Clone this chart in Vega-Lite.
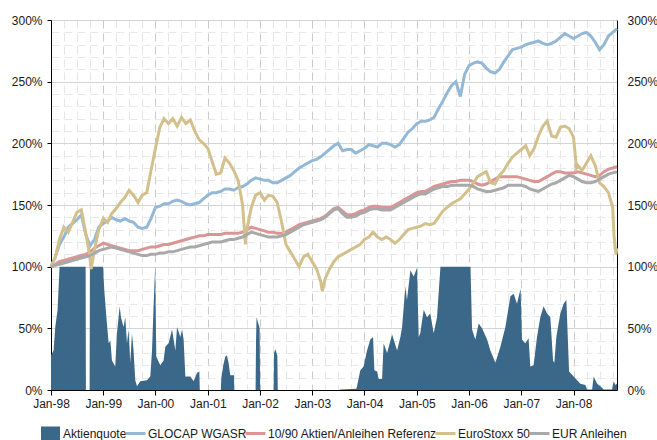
{
  "$schema": "https://vega.github.io/schema/vega-lite/v6.json",
  "autosize": {"type": "none"},
  "padding": {"left": 51, "top": 20, "right": 40, "bottom": 50},
  "width": 566,
  "height": 370,
  "background": "white",
  "config": {
    "view": {"stroke": null},
    "font": "Liberation Sans",
    "axis": {"labelFont": "Liberation Sans", "labelFontSize": 12, "labelColor": "#1a1a1a"},
    "legend": {"labelFont": "Liberation Sans", "labelFontSize": 12, "labelColor": "#1a1a1a"}
  },
  "datasets": {
    "aktienquote": [
      {"date":"1998-01-01","value":28},{"date":"1998-01-19","value":32},{"date":"1998-01-31","value":51},{"date":"1998-02-16","value":65},{"date":"1998-03-02","value":100},{"date":"1998-08-31","value":100},{"date":"1998-09-02","value":0},{"date":"1998-09-28","value":0},{"date":"1998-09-30","value":100},{"date":"1998-12-30","value":100},
      {"date":"1999-01-09","value":80},{"date":"1999-01-23","value":59},{"date":"1999-02-08","value":38},{"date":"1999-02-20","value":40},{"date":"1999-03-03","value":24},{"date":"1999-03-26","value":19},{"date":"1999-04-07","value":46},{"date":"1999-04-26","value":68},{"date":"1999-05-05","value":59},{"date":"1999-05-23","value":51},{"date":"1999-06-04","value":59},{"date":"1999-06-16","value":38},{"date":"1999-06-27","value":49},{"date":"1999-07-09","value":22},{"date":"1999-07-21","value":46},{"date":"1999-08-01","value":32},{"date":"1999-08-13","value":8},{"date":"1999-08-25","value":3},{"date":"1999-09-17","value":7},{"date":"1999-11-03","value":8},{"date":"1999-11-26","value":11},{"date":"1999-12-08","value":32},{"date":"1999-12-19","value":68},{"date":"1999-12-30","value":100},
      {"date":"2000-01-07","value":27},{"date":"2000-02-04","value":20},{"date":"2000-02-27","value":24},{"date":"2000-03-10","value":35},{"date":"2000-04-02","value":38},{"date":"2000-04-26","value":49},{"date":"2000-05-19","value":32},{"date":"2000-05-31","value":51},{"date":"2000-06-23","value":43},{"date":"2000-07-05","value":49},{"date":"2000-07-16","value":41},{"date":"2000-07-28","value":11},{"date":"2000-09-01","value":11},{"date":"2000-09-24","value":7},{"date":"2000-10-18","value":14},{"date":"2000-11-03","value":15},{"date":"2000-11-06","value":0},
      {"date":"2001-04-02","value":0},{"date":"2001-04-05","value":9},{"date":"2001-04-19","value":20},{"date":"2001-05-03","value":27},{"date":"2001-05-15","value":28},{"date":"2001-05-26","value":22},{"date":"2001-06-07","value":12},{"date":"2001-07-03","value":12},{"date":"2001-07-05","value":0},{"date":"2001-12-01","value":0},{"date":"2001-12-04","value":40},{"date":"2001-12-08","value":59},{"date":"2001-12-20","value":54},{"date":"2001-12-29","value":50},
      {"date":"2002-01-02","value":0},{"date":"2002-04-06","value":0},{"date":"2002-04-09","value":30},{"date":"2002-04-18","value":33},{"date":"2002-05-02","value":28},{"date":"2002-05-05","value":0},
      {"date":"2003-07-10","value":0},{"date":"2003-07-16","value":0.5},{"date":"2003-11-05","value":1},{"date":"2003-11-10","value":3},{"date":"2003-12-03","value":16},{"date":"2003-12-26","value":19},
      {"date":"2004-01-19","value":32},{"date":"2004-02-11","value":41},{"date":"2004-03-01","value":43},{"date":"2004-03-10","value":16},{"date":"2004-03-29","value":15},{"date":"2004-04-09","value":9},{"date":"2004-05-03","value":9},{"date":"2004-05-14","value":38},{"date":"2004-06-07","value":30},{"date":"2004-07-12","value":45},{"date":"2004-08-16","value":32},{"date":"2004-09-08","value":43},{"date":"2004-09-20","value":51},{"date":"2004-10-13","value":84},{"date":"2004-10-24","value":73},{"date":"2004-11-17","value":97},{"date":"2004-12-10","value":92},
      {"date":"2005-01-02","value":99},{"date":"2005-01-14","value":43},{"date":"2005-01-25","value":46},{"date":"2005-02-18","value":65},{"date":"2005-03-13","value":59},{"date":"2005-04-05","value":62},{"date":"2005-04-29","value":46},{"date":"2005-05-22","value":59},{"date":"2005-06-15","value":100},
      {"date":"2006-01-11","value":100},{"date":"2006-01-22","value":49},{"date":"2006-02-14","value":41},{"date":"2006-03-09","value":54},{"date":"2006-04-02","value":50},{"date":"2006-05-07","value":41},{"date":"2006-05-30","value":32},{"date":"2006-07-04","value":22},{"date":"2006-08-08","value":35},{"date":"2006-09-12","value":51},{"date":"2006-10-17","value":76},{"date":"2006-11-09","value":78},{"date":"2006-12-02","value":70},{"date":"2006-12-27","value":82},
      {"date":"2007-01-06","value":41},{"date":"2007-01-29","value":38},{"date":"2007-02-21","value":42},{"date":"2007-03-05","value":19},{"date":"2007-03-28","value":20},{"date":"2007-04-21","value":43},{"date":"2007-05-14","value":59},{"date":"2007-06-06","value":68},{"date":"2007-06-30","value":62},{"date":"2007-07-23","value":59},{"date":"2007-08-11","value":24},{"date":"2007-08-20","value":22},{"date":"2007-09-03","value":43},{"date":"2007-10-01","value":62},{"date":"2007-10-24","value":70},{"date":"2007-11-12","value":73},{"date":"2007-11-21","value":46},{"date":"2007-12-01","value":15},
      {"date":"2008-01-02","value":11},{"date":"2008-01-26","value":8},{"date":"2008-02-18","value":5},{"date":"2008-03-24","value":4},{"date":"2008-04-05","value":0.5},{"date":"2008-05-10","value":0.5},{"date":"2008-05-21","value":11},{"date":"2008-06-14","value":5},{"date":"2008-07-07","value":3},{"date":"2008-07-30","value":0.5},{"date":"2008-09-26","value":0.5},{"date":"2008-10-08","value":7},{"date":"2008-10-20","value":4},{"date":"2008-10-31","value":5}
    ],
    "glocap": [
      {"date":"1998-01-01","value":100},{"date":"1998-02-01","value":108},{"date":"1998-03-01","value":118},{"date":"1998-04-01","value":124},{"date":"1998-05-01","value":132},{"date":"1998-06-01","value":135},{"date":"1998-07-01","value":138},{"date":"1998-08-01","value":142},{"date":"1998-09-01","value":126},{"date":"1998-10-01","value":117},{"date":"1998-11-01","value":122},{"date":"1998-12-01","value":132},
      {"date":"1999-01-01","value":135},{"date":"1999-02-01","value":137},{"date":"1999-03-01","value":140},{"date":"1999-04-01","value":138},{"date":"1999-05-01","value":137},{"date":"1999-06-01","value":139},{"date":"1999-07-01","value":137},{"date":"1999-08-01","value":136},{"date":"1999-09-01","value":132},{"date":"1999-10-01","value":131},{"date":"1999-11-01","value":132},{"date":"1999-12-01","value":139},
      {"date":"2000-01-01","value":148},{"date":"2000-02-01","value":149},{"date":"2000-03-01","value":151},{"date":"2000-04-01","value":151},{"date":"2000-05-01","value":153},{"date":"2000-06-01","value":154},{"date":"2000-07-01","value":153},{"date":"2000-08-01","value":151},{"date":"2000-09-01","value":150},{"date":"2000-10-01","value":151},{"date":"2000-11-01","value":152},{"date":"2000-12-01","value":155},
      {"date":"2001-01-01","value":158},{"date":"2001-02-01","value":160},{"date":"2001-03-01","value":160},{"date":"2001-04-01","value":161},{"date":"2001-05-01","value":163},{"date":"2001-06-01","value":163},{"date":"2001-07-01","value":162},{"date":"2001-08-01","value":164},{"date":"2001-09-01","value":165},{"date":"2001-10-01","value":167},{"date":"2001-11-01","value":170},{"date":"2001-12-01","value":172},
      {"date":"2002-01-01","value":171},{"date":"2002-02-01","value":170},{"date":"2002-03-01","value":170},{"date":"2002-04-01","value":168},{"date":"2002-05-01","value":168},{"date":"2002-06-01","value":170},{"date":"2002-07-01","value":172},{"date":"2002-08-01","value":174},{"date":"2002-09-01","value":177},{"date":"2002-10-01","value":180},{"date":"2002-11-01","value":182},{"date":"2002-12-01","value":184},
      {"date":"2003-01-01","value":186},{"date":"2003-02-01","value":187},{"date":"2003-03-01","value":189},{"date":"2003-04-01","value":192},{"date":"2003-05-01","value":195},{"date":"2003-06-01","value":198},{"date":"2003-07-01","value":200},{"date":"2003-08-01","value":194},{"date":"2003-09-01","value":195},{"date":"2003-10-01","value":195},{"date":"2003-11-01","value":192},{"date":"2003-12-01","value":194},
      {"date":"2004-01-01","value":196},{"date":"2004-02-01","value":199},{"date":"2004-03-01","value":198},{"date":"2004-04-01","value":197},{"date":"2004-05-01","value":200},{"date":"2004-06-01","value":200},{"date":"2004-07-01","value":199},{"date":"2004-08-01","value":197},{"date":"2004-09-01","value":199},{"date":"2004-10-01","value":204},{"date":"2004-11-01","value":209},{"date":"2004-12-01","value":212},
      {"date":"2005-01-01","value":216},{"date":"2005-02-01","value":218},{"date":"2005-03-01","value":218},{"date":"2005-04-01","value":219},{"date":"2005-05-01","value":221},{"date":"2005-06-01","value":228},{"date":"2005-07-01","value":234},{"date":"2005-08-01","value":241},{"date":"2005-09-01","value":247},{"date":"2005-10-01","value":250},{"date":"2005-11-01","value":238},{"date":"2005-12-01","value":256},
      {"date":"2006-01-01","value":263},{"date":"2006-02-01","value":265},{"date":"2006-03-01","value":266},{"date":"2006-04-01","value":265},{"date":"2006-05-01","value":261},{"date":"2006-06-01","value":258},{"date":"2006-07-01","value":257},{"date":"2006-08-01","value":260},{"date":"2006-09-01","value":266},{"date":"2006-10-01","value":271},{"date":"2006-11-01","value":276},{"date":"2006-12-01","value":277},
      {"date":"2007-01-01","value":278},{"date":"2007-02-01","value":280},{"date":"2007-03-01","value":281},{"date":"2007-04-01","value":282},{"date":"2007-05-01","value":283},{"date":"2007-06-01","value":281},{"date":"2007-07-01","value":280},{"date":"2007-08-01","value":281},{"date":"2007-09-01","value":283},{"date":"2007-10-01","value":286},{"date":"2007-11-01","value":289},{"date":"2007-12-01","value":287},
      {"date":"2008-01-01","value":285},{"date":"2008-02-01","value":287},{"date":"2008-03-01","value":289},{"date":"2008-04-01","value":290},{"date":"2008-05-01","value":287},{"date":"2008-06-01","value":282},{"date":"2008-07-01","value":276},{"date":"2008-08-01","value":280},{"date":"2008-09-01","value":287},{"date":"2008-10-01","value":290},{"date":"2008-10-31","value":293}
    ],
    "referenz": [
      {"date":"1998-01-01","value":100},{"date":"1998-02-01","value":102},{"date":"1998-03-01","value":104},{"date":"1998-04-01","value":105},{"date":"1998-05-01","value":106},{"date":"1998-06-01","value":107},{"date":"1998-07-01","value":108},{"date":"1998-08-01","value":109},{"date":"1998-09-01","value":110},{"date":"1998-10-01","value":112},{"date":"1998-11-01","value":115},{"date":"1998-12-01","value":117},
      {"date":"1999-01-01","value":119},{"date":"1999-02-01","value":118},{"date":"1999-03-01","value":117},{"date":"1999-04-01","value":116},{"date":"1999-05-01","value":115},{"date":"1999-06-01","value":114},{"date":"1999-07-01","value":113},{"date":"1999-08-01","value":113},{"date":"1999-09-01","value":113},{"date":"1999-10-01","value":114},{"date":"1999-11-01","value":115},{"date":"1999-12-01","value":116},
      {"date":"2000-01-01","value":116},{"date":"2000-02-01","value":117},{"date":"2000-03-01","value":118},{"date":"2000-04-01","value":118},{"date":"2000-05-01","value":119},{"date":"2000-06-01","value":120},{"date":"2000-07-01","value":121},{"date":"2000-08-01","value":122},{"date":"2000-09-01","value":123},{"date":"2000-10-01","value":124},{"date":"2000-11-01","value":125},{"date":"2000-12-01","value":125},
      {"date":"2001-01-01","value":126},{"date":"2001-02-01","value":126},{"date":"2001-03-01","value":126},{"date":"2001-04-01","value":126},{"date":"2001-05-01","value":127},{"date":"2001-06-01","value":127},{"date":"2001-07-01","value":127},{"date":"2001-08-01","value":127},{"date":"2001-09-01","value":128},{"date":"2001-10-01","value":130},{"date":"2001-11-01","value":132},{"date":"2001-12-01","value":131},
      {"date":"2002-01-01","value":130},{"date":"2002-02-01","value":129},{"date":"2002-03-01","value":128},{"date":"2002-04-01","value":128},{"date":"2002-05-01","value":127},{"date":"2002-06-01","value":127},{"date":"2002-07-01","value":128},{"date":"2002-08-01","value":130},{"date":"2002-09-01","value":132},{"date":"2002-10-01","value":134},{"date":"2002-11-01","value":135},{"date":"2002-12-01","value":136},
      {"date":"2003-01-01","value":137},{"date":"2003-02-01","value":138},{"date":"2003-03-01","value":139},{"date":"2003-04-01","value":141},{"date":"2003-05-01","value":144},{"date":"2003-06-01","value":147},{"date":"2003-07-01","value":148},{"date":"2003-08-01","value":145},{"date":"2003-09-01","value":142},{"date":"2003-10-01","value":142},{"date":"2003-11-01","value":143},{"date":"2003-12-01","value":145},
      {"date":"2004-01-01","value":146},{"date":"2004-02-01","value":148},{"date":"2004-03-01","value":149},{"date":"2004-04-01","value":149},{"date":"2004-05-01","value":148},{"date":"2004-06-01","value":148},{"date":"2004-07-01","value":148},{"date":"2004-08-01","value":150},{"date":"2004-09-01","value":152},{"date":"2004-10-01","value":154},{"date":"2004-11-01","value":156},{"date":"2004-12-01","value":158},
      {"date":"2005-01-01","value":160},{"date":"2005-02-01","value":161},{"date":"2005-03-01","value":161},{"date":"2005-04-01","value":163},{"date":"2005-05-01","value":165},{"date":"2005-06-01","value":166},{"date":"2005-07-01","value":167},{"date":"2005-08-01","value":168},{"date":"2005-09-01","value":169},{"date":"2005-10-01","value":169},{"date":"2005-11-01","value":170},{"date":"2005-12-01","value":170},
      {"date":"2006-01-01","value":170},{"date":"2006-02-01","value":169},{"date":"2006-03-01","value":167},{"date":"2006-04-01","value":166},{"date":"2006-05-01","value":167},{"date":"2006-06-01","value":169},{"date":"2006-07-01","value":171},{"date":"2006-08-01","value":173},{"date":"2006-09-01","value":173},{"date":"2006-10-01","value":173},{"date":"2006-11-01","value":173},{"date":"2006-12-01","value":173},
      {"date":"2007-01-01","value":172},{"date":"2007-02-01","value":171},{"date":"2007-03-01","value":170},{"date":"2007-04-01","value":169},{"date":"2007-05-01","value":169},{"date":"2007-06-01","value":171},{"date":"2007-07-01","value":173},{"date":"2007-08-01","value":175},{"date":"2007-09-01","value":177},{"date":"2007-10-01","value":177},{"date":"2007-11-01","value":176},{"date":"2007-12-01","value":176},
      {"date":"2008-01-01","value":176},{"date":"2008-02-01","value":177},{"date":"2008-03-01","value":176},{"date":"2008-04-01","value":175},{"date":"2008-05-01","value":174},{"date":"2008-06-01","value":173},{"date":"2008-07-01","value":174},{"date":"2008-08-01","value":177},{"date":"2008-09-01","value":179},{"date":"2008-10-01","value":180},{"date":"2008-10-31","value":181}
    ],
    "eurostoxx": [
      {"date":"1998-01-01","value":100},{"date":"1998-02-01","value":108},{"date":"1998-03-01","value":122},{"date":"1998-04-01","value":132},{"date":"1998-05-01","value":128},{"date":"1998-06-01","value":136},{"date":"1998-07-01","value":144},{"date":"1998-08-01","value":146},{"date":"1998-09-01","value":127},{"date":"1998-09-20","value":115},{"date":"1998-10-01","value":106},{"date":"1998-10-08","value":98},{"date":"1998-11-01","value":114},{"date":"1998-12-01","value":130},
      {"date":"1999-01-01","value":139},{"date":"1999-02-01","value":136},{"date":"1999-03-01","value":143},{"date":"1999-04-01","value":147},{"date":"1999-05-01","value":152},{"date":"1999-06-01","value":156},{"date":"1999-07-01","value":162},{"date":"1999-08-01","value":158},{"date":"1999-09-01","value":152},{"date":"1999-10-01","value":158},{"date":"1999-11-01","value":160},{"date":"1999-12-01","value":178},
      {"date":"2000-01-01","value":196},{"date":"2000-02-01","value":213},{"date":"2000-03-01","value":220},{"date":"2000-04-01","value":216},{"date":"2000-05-01","value":220},{"date":"2000-06-01","value":214},{"date":"2000-07-01","value":221},{"date":"2000-08-01","value":216},{"date":"2000-09-01","value":219},{"date":"2000-10-01","value":210},{"date":"2000-11-01","value":203},{"date":"2000-12-01","value":200},
      {"date":"2001-01-01","value":196},{"date":"2001-02-01","value":185},{"date":"2001-03-01","value":175},{"date":"2001-04-01","value":176},{"date":"2001-05-01","value":188},{"date":"2001-06-01","value":184},{"date":"2001-07-01","value":178},{"date":"2001-08-01","value":170},{"date":"2001-09-01","value":150},{"date":"2001-09-21","value":118},{"date":"2001-10-01","value":130},{"date":"2001-11-01","value":148},{"date":"2001-12-01","value":158},
      {"date":"2002-01-01","value":160},{"date":"2002-02-01","value":154},{"date":"2002-03-01","value":158},{"date":"2002-04-01","value":157},{"date":"2002-05-01","value":152},{"date":"2002-06-01","value":136},{"date":"2002-07-01","value":118},{"date":"2002-08-01","value":112},{"date":"2002-09-01","value":106},{"date":"2002-10-01","value":100},{"date":"2002-11-01","value":108},{"date":"2002-12-01","value":110},
      {"date":"2003-01-01","value":104},{"date":"2003-02-01","value":98},{"date":"2003-03-01","value":88},{"date":"2003-03-12","value":80},{"date":"2003-04-01","value":90},{"date":"2003-05-01","value":98},{"date":"2003-06-01","value":104},{"date":"2003-07-01","value":108},{"date":"2003-08-01","value":110},{"date":"2003-09-01","value":112},{"date":"2003-10-01","value":114},{"date":"2003-11-01","value":116},{"date":"2003-12-01","value":118},
      {"date":"2004-01-01","value":122},{"date":"2004-02-01","value":124},{"date":"2004-03-01","value":128},{"date":"2004-04-01","value":124},{"date":"2004-05-01","value":122},{"date":"2004-06-01","value":124},{"date":"2004-07-01","value":122},{"date":"2004-08-01","value":119},{"date":"2004-09-01","value":122},{"date":"2004-10-01","value":126},{"date":"2004-11-01","value":130},{"date":"2004-12-01","value":131},
      {"date":"2005-01-01","value":132},{"date":"2005-02-01","value":133},{"date":"2005-03-01","value":135},{"date":"2005-04-01","value":134},{"date":"2005-05-01","value":135},{"date":"2005-06-01","value":140},{"date":"2005-07-01","value":145},{"date":"2005-08-01","value":148},{"date":"2005-09-01","value":151},{"date":"2005-10-01","value":153},{"date":"2005-11-01","value":155},{"date":"2005-12-01","value":159},
      {"date":"2006-01-01","value":163},{"date":"2006-02-01","value":168},{"date":"2006-03-01","value":173},{"date":"2006-04-01","value":175},{"date":"2006-05-01","value":177},{"date":"2006-06-01","value":168},{"date":"2006-07-01","value":167},{"date":"2006-08-01","value":174},{"date":"2006-09-01","value":178},{"date":"2006-10-01","value":184},{"date":"2006-11-01","value":189},{"date":"2006-12-01","value":192},
      {"date":"2007-01-01","value":195},{"date":"2007-02-01","value":198},{"date":"2007-03-01","value":190},{"date":"2007-04-01","value":196},{"date":"2007-05-01","value":206},{"date":"2007-06-01","value":214},{"date":"2007-07-01","value":218},{"date":"2007-08-01","value":206},{"date":"2007-09-01","value":205},{"date":"2007-10-01","value":213},{"date":"2007-11-01","value":214},{"date":"2007-12-01","value":212},
      {"date":"2008-01-01","value":205},{"date":"2008-01-22","value":180},{"date":"2008-02-01","value":182},{"date":"2008-03-01","value":178},{"date":"2008-04-01","value":184},{"date":"2008-05-01","value":190},{"date":"2008-06-01","value":182},{"date":"2008-07-01","value":168},{"date":"2008-08-01","value":165},{"date":"2008-09-01","value":160},{"date":"2008-10-01","value":148},{"date":"2008-10-10","value":125},{"date":"2008-10-24","value":110},{"date":"2008-10-31","value":115}
    ],
    "anleihen": [
      {"date":"1998-01-01","value":100},{"date":"1998-02-01","value":101},{"date":"1998-03-01","value":102},{"date":"1998-04-01","value":103},{"date":"1998-05-01","value":104},{"date":"1998-06-01","value":105},{"date":"1998-07-01","value":106},{"date":"1998-08-01","value":107},{"date":"1998-09-01","value":108},{"date":"1998-10-01","value":109},{"date":"1998-11-01","value":111},{"date":"1998-12-01","value":113},
      {"date":"1999-01-01","value":114},{"date":"1999-02-01","value":115},{"date":"1999-03-01","value":116},{"date":"1999-04-01","value":115},{"date":"1999-05-01","value":114},{"date":"1999-06-01","value":113},{"date":"1999-07-01","value":112},{"date":"1999-08-01","value":111},{"date":"1999-09-01","value":110},{"date":"1999-10-01","value":109},{"date":"1999-11-01","value":109},{"date":"1999-12-01","value":110},
      {"date":"2000-01-01","value":110},{"date":"2000-02-01","value":111},{"date":"2000-03-01","value":111},{"date":"2000-04-01","value":112},{"date":"2000-05-01","value":112},{"date":"2000-06-01","value":113},{"date":"2000-07-01","value":114},{"date":"2000-08-01","value":115},{"date":"2000-09-01","value":116},{"date":"2000-10-01","value":116},{"date":"2000-11-01","value":117},{"date":"2000-12-01","value":118},
      {"date":"2001-01-01","value":119},{"date":"2001-02-01","value":120},{"date":"2001-03-01","value":120},{"date":"2001-04-01","value":120},{"date":"2001-05-01","value":121},{"date":"2001-06-01","value":122},{"date":"2001-07-01","value":122},{"date":"2001-08-01","value":123},{"date":"2001-09-01","value":124},{"date":"2001-10-01","value":126},{"date":"2001-11-01","value":128},{"date":"2001-12-01","value":127},
      {"date":"2002-01-01","value":126},{"date":"2002-02-01","value":125},{"date":"2002-03-01","value":124},{"date":"2002-04-01","value":124},{"date":"2002-05-01","value":124},{"date":"2002-06-01","value":125},{"date":"2002-07-01","value":126},{"date":"2002-08-01","value":128},{"date":"2002-09-01","value":130},{"date":"2002-10-01","value":132},{"date":"2002-11-01","value":134},{"date":"2002-12-01","value":135},
      {"date":"2003-01-01","value":136},{"date":"2003-02-01","value":137},{"date":"2003-03-01","value":138},{"date":"2003-04-01","value":140},{"date":"2003-05-01","value":143},{"date":"2003-06-01","value":146},{"date":"2003-07-01","value":147},{"date":"2003-08-01","value":143},{"date":"2003-09-01","value":140},{"date":"2003-10-01","value":140},{"date":"2003-11-01","value":141},{"date":"2003-12-01","value":143},
      {"date":"2004-01-01","value":144},{"date":"2004-02-01","value":146},{"date":"2004-03-01","value":147},{"date":"2004-04-01","value":147},{"date":"2004-05-01","value":146},{"date":"2004-06-01","value":146},{"date":"2004-07-01","value":146},{"date":"2004-08-01","value":148},{"date":"2004-09-01","value":150},{"date":"2004-10-01","value":152},{"date":"2004-11-01","value":154},{"date":"2004-12-01","value":156},
      {"date":"2005-01-01","value":158},{"date":"2005-02-01","value":159},{"date":"2005-03-01","value":159},{"date":"2005-04-01","value":161},{"date":"2005-05-01","value":163},{"date":"2005-06-01","value":164},{"date":"2005-07-01","value":165},{"date":"2005-08-01","value":165},{"date":"2005-09-01","value":166},{"date":"2005-10-01","value":166},{"date":"2005-11-01","value":166},{"date":"2005-12-01","value":166},
      {"date":"2006-01-01","value":166},{"date":"2006-02-01","value":165},{"date":"2006-03-01","value":163},{"date":"2006-04-01","value":162},{"date":"2006-05-01","value":161},{"date":"2006-06-01","value":161},{"date":"2006-07-01","value":162},{"date":"2006-08-01","value":163},{"date":"2006-09-01","value":164},{"date":"2006-10-01","value":166},{"date":"2006-11-01","value":166},{"date":"2006-12-01","value":166},
      {"date":"2007-01-01","value":166},{"date":"2007-02-01","value":165},{"date":"2007-03-01","value":163},{"date":"2007-04-01","value":162},{"date":"2007-05-01","value":161},{"date":"2007-06-01","value":163},{"date":"2007-07-01","value":165},{"date":"2007-08-01","value":167},{"date":"2007-09-01","value":168},{"date":"2007-10-01","value":170},{"date":"2007-11-01","value":172},{"date":"2007-12-01","value":174},
      {"date":"2008-01-01","value":173},{"date":"2008-02-01","value":171},{"date":"2008-03-01","value":169},{"date":"2008-04-01","value":168},{"date":"2008-05-01","value":168},{"date":"2008-06-01","value":169},{"date":"2008-07-01","value":171},{"date":"2008-08-01","value":173},{"date":"2008-09-01","value":175},{"date":"2008-10-01","value":176},{"date":"2008-10-31","value":177}
    ]
  },
  "resolve": {"axis": {"y": "independent"}},
  "layer": [
    {
      "data": {"name": "aktienquote"},
      "mark": {"type": "area", "interpolate": "linear"},
      "encoding": {
        "x": {
          "field": "date", "type": "temporal",
          "scale": {"type": "utc", "domain": [{"year": 1998, "month": 1, "date": 1, "utc": true}, {"year": 2008, "month": 10, "date": 31, "utc": true}]},
          "axis": {
            "title": null,
            "tickCount": {"interval": "month", "step": 3},
            "labelExpr": "utcmonth(datum.value) == 0 ? utcFormat(datum.value, '%b-%y') : ''",
            "labelOverlap": false,
            "labelFlush": false,
            "labelPadding": 3,
            "grid": true,
            "gridColor": {"condition": {"test": "utcmonth(datum.value) == 0", "value": "#cacaca"}, "value": "#e6e6e6"},
            "gridDash": [8, 5],
            "tickOpacity": {"condition": {"test": "utcmonth(datum.value) == 0", "value": 1}, "value": 0},
            "tickSize": 5,
            "tickColor": "#000",
            "domainColor": "#000"
          }
        },
        "y": {
          "field": "value", "type": "quantitative",
          "scale": {"domain": [0, 300], "nice": false},
          "axis": {
            "orient": "left",
            "title": null,
            "values": [0,10,20,30,40,50,60,70,80,90,100,110,120,130,140,150,160,170,180,190,200,210,220,230,240,250,260,270,280,290,300],
            "labelExpr": "datum.value % 50 == 0 ? datum.value + '%' : ''",
            "labelOverlap": false,
            "labelPadding": 5,
            "grid": true,
            "gridColor": {"condition": {"test": "datum.value % 50 == 0", "value": "#d4d4d4"}, "value": "#e8e8e8"},
            "gridDash": {"condition": {"test": "datum.value % 50 == 0", "value": []}, "value": [8, 5]},
            "tickOpacity": {"condition": {"test": "datum.value % 50 == 0", "value": 1}, "value": 0},
            "tickSize": 4,
            "tickColor": "#000",
            "domainColor": "#000"
          }
        },
        "color": {
          "datum": "Aktienquote", "type": "nominal",
          "scale": {"domain": ["Aktienquote", "GLOCAP WGASR", "10/90 Aktien/Anleihen Referenz", "EuroStoxx 50", "EUR Anleihen"], "range": ["#3b6889", "#93b9d6", "#d99694", "#d4c08c", "#a9a9a9"]},
          "legend": {
            "title": null,
            "orient": "none",
            "legendX": -12,
            "legendY": 402,
            "direction": "horizontal",
            "columns": 5,
            "gridAlign": "none",
            "symbolSize": 400,
            "labelOffset": 1,
            "labelLimit": 400,
            "columnPadding": -8,
            "labelFontSize": 12,
            "encode": {
              "symbols": {
                "update": {
                  "shape": {"signal": "datum.value === 'Aktienquote' ? 'M-0.8,-0.55H0.8V0.55H-0.8Z' : 'stroke'"},
                  "fill": {"signal": "datum.value === 'Aktienquote' ? '#3b6889' : 'transparent'"},
                  "stroke": {"signal": "datum.value === 'Aktienquote' ? 'transparent' : datum.value === 'GLOCAP WGASR' ? '#93b9d6' : datum.value === '10/90 Aktien/Anleihen Referenz' ? '#d99694' : datum.value === 'EuroStoxx 50' ? '#d4c08c' : '#a9a9a9'"},
                  "strokeWidth": {"value": 3},
                  "opacity": {"value": 1}
                }
              }
            }
          }
        }
      }
    },
    {
      "data": {"name": "glocap"},
      "mark": {"type": "line", "strokeWidth": 3},
      "encoding": {
        "x": {"field": "date", "type": "temporal", "scale": {"type": "utc", "domain": [{"year": 1998, "month": 1, "date": 1, "utc": true}, {"year": 2008, "month": 10, "date": 31, "utc": true}]}},
        "y": {
          "field": "value", "type": "quantitative",
          "scale": {"domain": [0, 300], "nice": false},
          "axis": {
            "orient": "right", "title": null,
            "values": [0, 50, 100, 150, 200, 250, 300],
            "labelExpr": "datum.value + '%'",
            "grid": false, "ticks": false, "labelPadding": 10,
            "domainColor": "#000"
          }
        },
        "color": {"datum": "GLOCAP WGASR", "type": "nominal"}
      }
    },
    {
      "data": {"name": "referenz"},
      "mark": {"type": "line", "strokeWidth": 3},
      "encoding": {
        "x": {"field": "date", "type": "temporal", "scale": {"type": "utc", "domain": [{"year": 1998, "month": 1, "date": 1, "utc": true}, {"year": 2008, "month": 10, "date": 31, "utc": true}]}},
        "y": {"field": "value", "type": "quantitative", "scale": {"domain": [0, 300], "nice": false}, "axis": null},
        "color": {"datum": "10/90 Aktien/Anleihen Referenz", "type": "nominal"}
      }
    },
    {
      "data": {"name": "eurostoxx"},
      "mark": {"type": "line", "strokeWidth": 3},
      "encoding": {
        "x": {"field": "date", "type": "temporal", "scale": {"type": "utc", "domain": [{"year": 1998, "month": 1, "date": 1, "utc": true}, {"year": 2008, "month": 10, "date": 31, "utc": true}]}},
        "y": {"field": "value", "type": "quantitative", "scale": {"domain": [0, 300], "nice": false}, "axis": null},
        "color": {"datum": "EuroStoxx 50", "type": "nominal"}
      }
    },
    {
      "data": {"name": "anleihen"},
      "mark": {"type": "line", "strokeWidth": 3},
      "encoding": {
        "x": {"field": "date", "type": "temporal", "scale": {"type": "utc", "domain": [{"year": 1998, "month": 1, "date": 1, "utc": true}, {"year": 2008, "month": 10, "date": 31, "utc": true}]}},
        "y": {"field": "value", "type": "quantitative", "scale": {"domain": [0, 300], "nice": false}, "axis": null},
        "color": {"datum": "EUR Anleihen", "type": "nominal"}
      }
    }
  ]
}
